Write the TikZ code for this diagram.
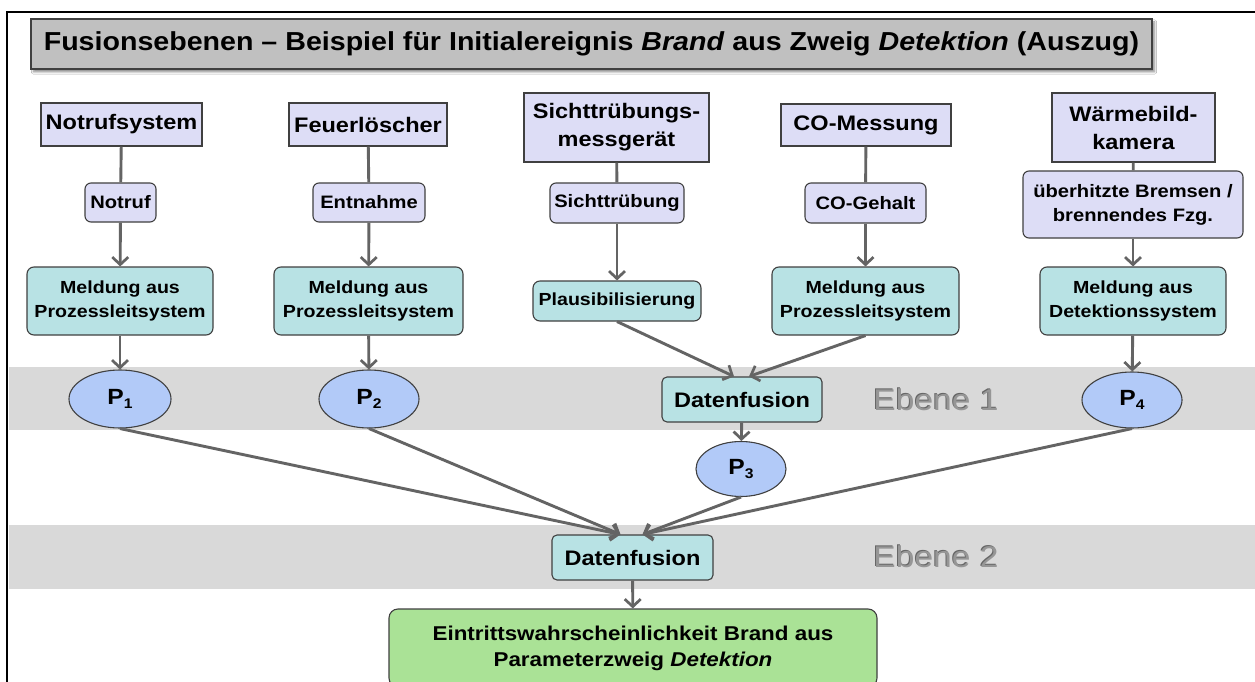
\documentclass[tikz,border=0pt]{standalone}
\usepackage{fontspec}
\setmainfont{Liberation Sans}[FakeStretch=1.12]
\newfontfamily\titlefont{Liberation Sans}[FakeStretch=1.1]
\usetikzlibrary{arrows.meta,shapes.geometric,shadows.blur}

\definecolor{lav}{RGB}{221,221,246}
\definecolor{teal}{RGB}{184,226,228}
\definecolor{pblue}{RGB}{178,202,248}
\definecolor{resgreen}{RGB}{170,226,150}
\definecolor{band}{RGB}{217,217,217}
\definecolor{titlegray}{RGB}{192,192,192}
\definecolor{edgegray}{RGB}{64,64,64}
\definecolor{linegray}{RGB}{100,100,100}
\definecolor{ebenegray}{RGB}{150,150,150}

\tikzset{
  base/.style={draw=edgegray, line width=1.1pt, inner sep=0pt, align=center},
  srcbox/.style={base, fill=lav, font=\fontsize{21}{28}\selectfont\bfseries},
  sigbox/.style={base, fill=lav, rounded corners=6pt, font=\fontsize{18}{24}\selectfont\bfseries},
  msgbox/.style={base, fill=teal, rounded corners=7pt, font=\fontsize{17.5}{24}\selectfont\bfseries},
  fusebox/.style={base, fill=teal, rounded corners=5pt, font=\fontsize{21}{24}\selectfont\bfseries},
  pnode/.style={base, ellipse, fill=pblue, font=\fontsize{22}{24}\selectfont\bfseries},
  plainline/.style={draw=linegray, line width=2.9pt},
  flow/.style={plainline, -{Straight Barb[length=7.5pt,width=16pt,line width=2.7pt]}},
  ebene/.style={text=ebenegray, font=\fontsize{30}{32}\selectfont}
}
\newcommand{\psub}[1]{P\raisebox{-4.5pt}{\fontsize{14}{14}\selectfont #1}}

\begin{document}
\begin{tikzpicture}[x=1pt,y=-1pt]
\useasboundingbox (0,0) rectangle (1255,682);
\fill[white] (0,0) rectangle (1255,682);

% outer frame (top and left edges)
\draw[line width=2.2pt, black] (7,682) -- (7,12) -- (1255,12);

% level bands
\fill[band] (9,367) rectangle (1255,430);
\fill[band] (9,525) rectangle (1255,589);

% title
\node[draw=edgegray, line width=1.1pt, fill=titlegray, minimum width=1121pt, minimum height=50pt,
      inner sep=0pt, blur shadow={shadow xshift=2.5pt, shadow yshift=-3pt, shadow opacity=45, shadow blur steps=6},
      font=\titlefont\fontsize{26}{28}\selectfont\bfseries]
  (title) at (591.5,44) {Fusionsebenen – Beispiel für Initialereignis \textit{Brand} aus Zweig \textit{Detektion} (Auszug)};

% sources
\node[srcbox, minimum width=161pt, minimum height=43pt] (ns) at (121.5,124.5) {Notrufsystem};
\node[srcbox, minimum width=158pt, minimum height=43pt] (fl) at (368,124.5) {Feuerlöscher};
\node[srcbox, minimum width=185pt, minimum height=69pt] (sm) at (616.5,127.5) {Sichttrübungs-\\messgerät};
\node[srcbox, minimum width=170pt, minimum height=42pt] (co) at (866,125) {CO-Messung};
\node[srcbox, minimum width=163pt, minimum height=69pt] (wb) at (1133.5,127.5) {Wärmebild-\\kamera};

% signals
\node[sigbox, minimum width=71pt, minimum height=39pt] (notruf) at (120.5,202.5) {Notruf};
\node[sigbox, minimum width=112pt, minimum height=39pt] (entn) at (369,202.5) {Entnahme};
\node[sigbox, minimum width=134pt, minimum height=40pt] (sicht) at (617,203) {Sichttrübung};
\node[sigbox, minimum width=121pt, minimum height=40pt] (cogeh) at (865.5,203) {CO-Gehalt};
\node[sigbox, minimum width=220pt, minimum height=67pt] (hitze) at (1133,204.5) {überhitzte Bremsen /\\brennendes Fzg.};

% messages
\node[msgbox, minimum width=186pt, minimum height=68pt] (m1) at (120,301) {Meldung aus\\Prozessleitsystem};
\node[msgbox, minimum width=189pt, minimum height=68pt] (m2) at (368.5,301) {Meldung aus\\Prozessleitsystem};
\node[msgbox, minimum width=168pt, minimum height=40pt] (plaus) at (617,301) {Plausibilisierung};
\node[msgbox, minimum width=187pt, minimum height=68pt] (m3) at (865.5,301) {Meldung aus\\Prozessleitsystem};
\node[msgbox, minimum width=186pt, minimum height=68pt] (m4) at (1133,301) {Meldung aus\\Detektionssystem};

% level 1
\node[pnode, minimum width=102pt, minimum height=58pt] (p1) at (120,399) {\psub{1}};
\node[pnode, minimum width=100pt, minimum height=58pt] (p2) at (369,399) {\psub{2}};
\node[fusebox, minimum width=160pt, minimum height=45pt] (df1) at (742,399.5) {Datenfusion};
\node[pnode, minimum width=100pt, minimum height=56pt] (p4) at (1132,400) {\psub{4}};
\node[pnode, minimum width=90pt, minimum height=55pt] (p3) at (741,469) {\psub{3}};
\node[ebene, text=black!60] (eb1s) at (935,399) {Ebene 1};
\node[ebene] (eb1) at (936,400) {Ebene 1};

% level 2
\node[fusebox, minimum width=161pt, minimum height=45pt] (df2) at (632.5,557.5) {Datenfusion};
\node[ebene, text=black!60] (eb2s) at (935,556) {Ebene 2};
\node[ebene] (eb2) at (936,557) {Ebene 2};

% result
\node[base, fill=resgreen, rounded corners=9pt, minimum width=488pt, minimum height=78pt,
      font=\fontsize{20}{26}\selectfont\bfseries] (res) at (633,648) {Eintrittswahrscheinlichkeit Brand aus\\Parameterzweig \textit{Detektion}};

% connectors
\draw[plainline] (ns) -- (notruf);
\draw[flow] (notruf) -- (m1);
\draw[flow] (m1) -- (p1);

\draw[plainline] (fl) -- (entn);
\draw[flow] (entn) -- (m2);
\draw[flow] (m2) -- (p2);

\draw[plainline] (sm) -- (sicht);
\draw[flow] (sicht) -- (plaus);
\draw[flow] (plaus.south) -- ([xshift=-8pt]df1.north);

\draw[plainline] (co) -- (cogeh);
\draw[flow] (cogeh) -- (m3);
\draw[flow] (m3.south) -- ([xshift=7pt]df1.north);

\draw[plainline] (wb) -- (hitze);
\draw[flow] (hitze) -- (m4);
\draw[flow] (m4) -- (p4);

\draw[flow] (df1) -- (p3);

\draw[flow] (p1.south) -- ([xshift=-12pt]df2.north);
\draw[flow] (p2.south) -- ([xshift=-12pt]df2.north);
\draw[flow] (p3.south) -- ([xshift=10pt]df2.north);
\draw[flow] (p4.south) -- ([xshift=10pt]df2.north);

\draw[flow] (df2) -- (res);
\end{tikzpicture}
\end{document}
